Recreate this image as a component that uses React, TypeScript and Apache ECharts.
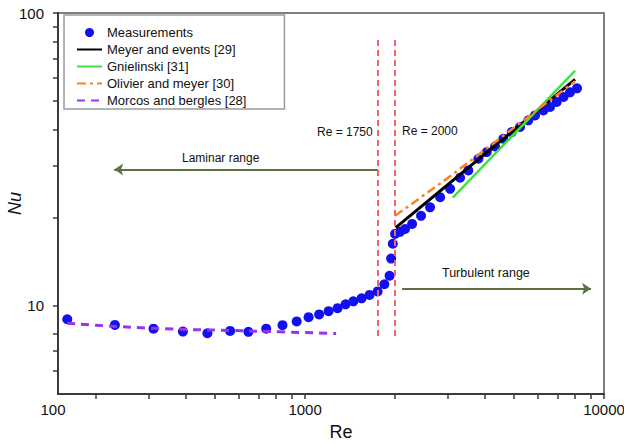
import React, { useEffect, useRef } from 'react';
import * as echarts from 'echarts';

// ---- data ----
const reMeasured = [160, 231, 311, 390, 471, 561, 646, 741, 840, 937, 1027, 1114, 1198, 1284, 1366, 1450, 1545, 1643, 1748, 1841, 1917, 1940, 1965, 2000, 2078, 2160, 2280, 2443, 2618, 2829, 3055, 3300, 3516, 3799, 4053, 4320, 4605, 4913, 5236, 5583, 5878, 6267, 6598, 6947, 7319, 7697, 8124];
const nuMeasured = [9.0, 8.61, 8.36, 8.17, 8.06, 8.21, 8.15, 8.36, 8.59, 8.85, 9.15, 9.35, 9.59, 9.82, 10.12, 10.36, 10.61, 10.9, 11.2, 11.85, 12.67, 14.5, 16.3, 17.6, 17.9, 18.3, 19.05, 20.3, 21.7, 23.5, 25.1, 27.4, 29.0, 31.8, 33.5, 35.0, 37.2, 39.2, 40.8, 43.0, 44.7, 46.5, 47.8, 49.7, 51.7, 53.6, 55.3];

const reMeyer = [2010, 8000];
const nuMeyer = [18.5, 59.3];

const reGnielinski = [3120, 8000];
const nuGnielinski = [23.4, 63.5];

const reOlivier = [2000, 3000, 8000];
const nuOlivier = [20.3, 27.3, 58.5];

const reMorcos = [160, 311, 561, 825, 1270];
const nuMorcos = [8.72, 8.38, 8.24, 8.15, 8.04];

const seriesNames = ['Measurements', 'Meyer and events [29]', 'Gnielinski [31]', 'Olivier and meyer [30]', 'Morcos and bergles [28]'];

// critical Reynolds numbers (vertical dashed lines) and their Nu span
const reCritical = [1750, 2000];
const nuCriticalSpan = [7.89, 80.8];
const criticalLabels = ['Re = 1750', 'Re = 2000'];

// range arrows: [Re start, Re end, Nu level]
const laminarArrow = [1750, 229.8, 29.2];
const turbulentArrow = [2110, 9046, 11.43];
const rangeLabels = ['Laminar range', 'Turbulent range'];

// axes
const reMin = 149;
const reMax = 10000;
const nuMin = 5;
const nuMax = 100;
const xTickValues = [200, 300, 400, 500, 600, 700, 800, 900, 1000, 2000, 3000, 4000, 5000, 6000, 7000, 8000, 9000, 10000];
const xLabelAt = [reMin, 1000, 10000];
const xLabelTexts = ['100', '1000', '10000'];
const yTickValues = [6, 7, 8, 10, 20, 30, 40, 50, 60, 70, 80, 90, 100];
const yLabelAt = [10, 100];
const yLabelTexts = ['10', '100'];

const FONT = '"Liberation Sans", Arial, Helvetica, sans-serif';
const lg = (v: number) => Math.log10(v);
const zip = (a: number[], b: number[]) => a.map((v, i) => [v, b[i]]);
const findLabel = (v: number, at: number[], texts: string[]) => {
  for (let i = 0; i < at.length; i++) if (Math.abs(lg(at[i]) - v) < 1e-6) return texts[i];
  return '';
};

export default function App() {
  const ref = useRef<HTMLDivElement>(null);
  useEffect(() => {
    const chart = echarts.init(ref.current!, null, { renderer: 'svg' });
    const axisColor = '#3a3a3a';
    const red = { color: '#f2646a', width: 2, type: [6, 4] as any };
    const olive = { color: '#5d7142', width: 2, type: 'solid' as any };
    const option: any = {
      animation: false,
      backgroundColor: '#ffffff',
      textStyle: { fontFamily: FONT },
      grid: {
        left: 58, right: 20, top: 13, bottom: 52,
        show: true, borderColor: '#808080', borderWidth: 2,
        containLabel: false, outerBoundsMode: 'none'
      },
      legend: {
        orient: 'vertical', left: 64, top: 15,
        data: seriesNames.map((n, i) => (i === 0 ? { name: n } : { name: n, itemStyle: { opacity: 0 } })),
        padding: [11, 38, 2, 12],
        itemGap: 4, itemWidth: 25, itemHeight: 9,
        borderColor: '#9a9a9a', borderWidth: 1.5, backgroundColor: '#ffffff',
        textStyle: { fontSize: 13, fontFamily: FONT, color: '#111' },
        selectedMode: false
      },
      xAxis: [
        { type: 'log', min: reMin, max: reMax, show: false },
        {
          type: 'value', min: lg(reMin), max: lg(reMax), position: 'bottom',
          name: 'Re', nameLocation: 'middle', nameGap: 29, nameMoveOverlap: false,
          nameTextStyle: { fontSize: 18, color: '#111', fontFamily: FONT, padding: [0, 0, 0, 20] },
          axisLine: { show: true, onZero: false, lineStyle: { color: axisColor, width: 2 } },
          axisTick: { show: true, inside: false, length: 5, customValues: xTickValues.map(lg), lineStyle: { color: axisColor, width: 1.5 } },
          axisLabel: {
            show: true, margin: 8, fontSize: 15, color: '#111', fontFamily: FONT,
            customValues: xLabelAt.map(lg),
            formatter: (v: number) => {
              const t = findLabel(v, xLabelAt, xLabelTexts);
              return Math.abs(v - lg(reMin)) < 1e-6 ? `{l|${t}}` : t;
            },
            rich: { l: { fontSize: 15, color: '#111', fontFamily: FONT, padding: [0, 10, 0, 0] } }
          },
          splitLine: { show: false }
        }
      ],
      yAxis: [
        { type: 'log', min: nuMin, max: nuMax, show: false },
        {
          type: 'value', min: lg(nuMin), max: lg(nuMax), position: 'left',
          name: 'Nu', nameLocation: 'middle', nameGap: 34, nameMoveOverlap: false,
          nameTextStyle: { fontSize: 18, fontStyle: 'italic', color: '#111', fontFamily: FONT },
          axisLine: { show: true, onZero: false, lineStyle: { color: axisColor, width: 2 } },
          axisTick: { show: true, inside: false, length: 5, customValues: yTickValues.map(lg), lineStyle: { color: axisColor, width: 1.5 } },
          axisLabel: {
            show: true, margin: 14, fontSize: 15, color: '#111', fontFamily: FONT,
            customValues: yLabelAt.map(lg),
            formatter: (v: number) => findLabel(v, yLabelAt, yLabelTexts)
          },
          splitLine: { show: false }
        }
      ],
      series: [
        {
          name: seriesNames[0], type: 'scatter', xAxisIndex: 0, yAxisIndex: 0,
          data: zip(reMeasured, nuMeasured), symbol: 'circle', symbolSize: 10,
          itemStyle: { color: '#1010f0', opacity: 1 }, z: 2
        },
        {
          name: seriesNames[1], type: 'line', xAxisIndex: 0, yAxisIndex: 0,
          data: zip(reMeyer, nuMeyer), symbol: 'none', showSymbol: false,
          lineStyle: { color: '#000000', width: 3 }, itemStyle: { color: '#000000' }, z: 3
        },
        {
          name: seriesNames[2], type: 'line', xAxisIndex: 0, yAxisIndex: 0,
          data: zip(reGnielinski, nuGnielinski), symbol: 'none', showSymbol: false,
          lineStyle: { color: '#3fe03f', width: 2.5 }, itemStyle: { color: '#3fe03f' }, z: 3
        },
        {
          name: seriesNames[3], type: 'line', xAxisIndex: 0, yAxisIndex: 0,
          data: zip(reOlivier, nuOlivier), symbol: 'none', showSymbol: false,
          lineStyle: { color: '#ff7f22', width: 2.5, type: [9, 4, 3, 4] }, itemStyle: { color: '#ff7f22' }, z: 3
        },
        {
          name: seriesNames[4], type: 'line', xAxisIndex: 0, yAxisIndex: 0,
          data: zip(reMorcos, nuMorcos), symbol: 'none', showSymbol: false, smooth: true,
          lineStyle: { color: '#9a30f2', width: 3, type: [8, 6] }, itemStyle: { color: '#9a30f2' }, z: 3
        },
        {
          name: 'guides', type: 'line', xAxisIndex: 0, yAxisIndex: 0, data: [], silent: true,
          markLine: {
            silent: true, symbol: 'none', animation: false, label: { show: false },
            data: [
              ...reCritical.map((re) => [
                { coord: [re, nuCriticalSpan[0]], lineStyle: red, symbol: 'none' },
                { coord: [re, nuCriticalSpan[1]], symbol: 'none' }
              ]),
              [
                { coord: [laminarArrow[0], laminarArrow[2]], lineStyle: olive, symbol: 'none' },
                { coord: [laminarArrow[1], laminarArrow[2]], symbol: 'arrow', symbolSize: [9, 9] }
              ],
              [
                { coord: [turbulentArrow[0], turbulentArrow[2]], lineStyle: olive, symbol: 'none' },
                { coord: [turbulentArrow[1], turbulentArrow[2]], symbol: 'arrow', symbolSize: [9, 9] }
              ]
            ]
          }
        }
      ],
      graphic: [
        { type: 'text', x: 317, y: 131.5, style: { text: criticalLabels[0], font: `12px ${FONT}`, fill: '#111', align: 'left', verticalAlign: 'middle', textAlign: 'left', textVerticalAlign: 'middle' } },
        { type: 'text', x: 402, y: 131, style: { text: criticalLabels[1], font: `12px ${FONT}`, fill: '#111', align: 'left', verticalAlign: 'middle', textAlign: 'left', textVerticalAlign: 'middle' } },
        { type: 'text', x: 182, y: 158, style: { text: rangeLabels[0], font: `12px ${FONT}`, fill: '#111', align: 'left', verticalAlign: 'middle', textAlign: 'left', textVerticalAlign: 'middle' } },
        { type: 'text', x: 442, y: 273, style: { text: rangeLabels[1], font: `12.5px ${FONT}`, fill: '#111', align: 'left', verticalAlign: 'middle', textAlign: 'left', textVerticalAlign: 'middle' } }
      ]
    };
    chart.setOption(option);
    return () => chart.dispose();
  }, []);
  return <div ref={ref} style={{ position: 'fixed', left: 0, top: 0, width: 624, height: 446, background: '#fff' }} />;
}
